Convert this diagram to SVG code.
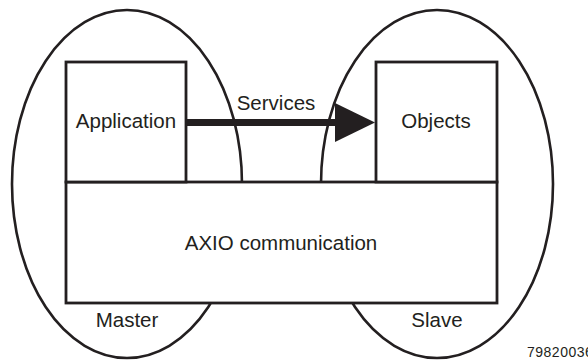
<svg xmlns="http://www.w3.org/2000/svg" width="588" height="360" viewBox="0 0 588 360">
  <style>
    .ell { fill: none; stroke: #231f20; stroke-width: 2.6; }
    .box { fill: #fff; stroke: #231f20; stroke-width: 2.8; }
    .lbl { font-family: "Liberation Sans", Arial, sans-serif; font-size: 20.5px; fill: #231f20; text-anchor: middle; }
    .small { font-family: "Liberation Sans", Arial, sans-serif; font-size: 14px; letter-spacing: 0.5px; fill: #231f20; }
  </style>
  <rect width="588" height="360" fill="#fff"/>
  <g id="master">
    <ellipse class="ell" cx="127" cy="184" rx="115" ry="174"/>
    <text class="lbl" x="127" y="327">Master</text>
  </g>
  <g id="slave">
    <ellipse class="ell" cx="437" cy="184" rx="116" ry="174"/>
    <text class="lbl" x="437" y="327">Slave</text>
  </g>
  <g id="axio">
    <rect class="box" x="66" y="182" width="431" height="121"/>
    <text class="lbl" x="281" y="250">AXIO communication</text>
  </g>
  <g id="application">
    <rect class="box" x="66" y="62" width="120" height="120"/>
    <text class="lbl" x="126" y="128">Application</text>
  </g>
  <g id="objects">
    <rect class="box" x="376" y="62" width="121" height="120"/>
    <text class="lbl" x="436" y="128">Objects</text>
  </g>
  <g id="connectors">
    <line x1="186" y1="122.5" x2="337" y2="122.5" stroke="#231f20" stroke-width="7"/>
    <polygon points="335,103 375,122.5 335,142" fill="#231f20"/>
    <text class="lbl" x="276" y="110">Services</text>
  </g>
  <text class="small" x="527" y="357">79820036</text>
</svg>
